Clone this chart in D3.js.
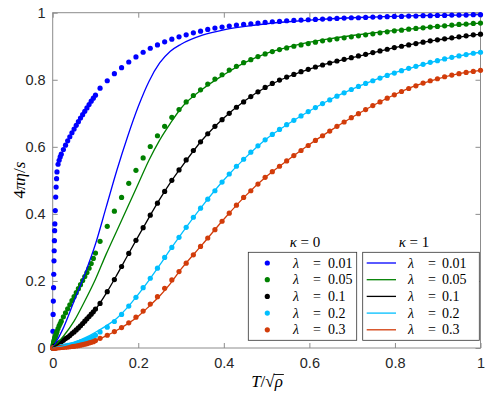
<!DOCTYPE html>
<html>
<head>
<meta charset="utf-8">
<script src="https://cdn.jsdelivr.net/npm/d3@7"></script>
<style>
  body { margin: 0; background: #fff; }
  .tick text { font-family: "Liberation Sans", Arial, sans-serif; font-size: 14.5px; fill: #262626; }
  .math { font-family: "Liberation Serif", "DejaVu Serif", serif; fill: #000; }
</style>
</head>
<body>
<script>
// shared sample points of the kappa = 0 dots (dense near 0, then evenly spaced)
var tDots = [0, 0.0005, 0.001, 0.0015, 0.002, 0.0025, 0.003, 0.0035, 0.004, 0.0045,
  0.005, 0.006, 0.007, 0.008, 0.009, 0.01, 0.0125, 0.015, 0.0175, 0.02,
  0.025, 0.03, 0.035, 0.04, 0.045, 0.05, 0.055, 0.06, 0.065, 0.07,
  0.075, 0.08, 0.085, 0.09, 0.095, 0.1,
  0.1107, 0.1275, 0.1442, 0.161, 0.1778, 0.1946, 0.2114, 0.2281, 0.2449, 0.2617,
  0.2785, 0.2953, 0.312, 0.3288, 0.3456, 0.3624, 0.3792, 0.3959, 0.4127, 0.4295,
  0.4463, 0.4631, 0.4798, 0.4966, 0.5134, 0.5302, 0.5469, 0.5637, 0.5805, 0.5973,
  0.6141, 0.6308, 0.6476, 0.6644, 0.6812, 0.698, 0.7147, 0.7315, 0.7483, 0.7651,
  0.7819, 0.7986, 0.8154, 0.8322, 0.849, 0.8658, 0.8825, 0.8993, 0.9161, 0.9329,
  0.9497, 0.9664, 0.9832, 1];

// kappa = 0 (dots), one array per lambda
var dots001 = [0, 0.05, 0.10, 0.14, 0.18, 0.22, 0.26, 0.29, 0.32, 0.35,
  0.37, 0.41, 0.45, 0.48, 0.505, 0.525, 0.548, 0.56, 0.57, 0.578,
  0.592, 0.605, 0.618, 0.63, 0.642, 0.653, 0.664, 0.675, 0.686, 0.696,
  0.706, 0.716, 0.726, 0.736, 0.745, 0.754,
  0.775, 0.797, 0.818, 0.836, 0.853, 0.868, 0.882, 0.894, 0.904, 0.913,
  0.921, 0.928, 0.934, 0.940, 0.945, 0.950, 0.954, 0.957, 0.960, 0.963,
  0.965, 0.967, 0.969, 0.971, 0.973, 0.974, 0.976, 0.977, 0.978, 0.979,
  0.980, 0.981, 0.982, 0.983, 0.984, 0.985, 0.985, 0.986, 0.987, 0.987,
  0.988, 0.989, 0.989, 0.990, 0.990, 0.991, 0.991, 0.992, 0.992, 0.993,
  0.993, 0.993, 0.994, 0.994];
var dots005 = [0, 0.004, 0.008, 0.011, 0.014, 0.017, 0.02, 0.022, 0.025, 0.027,
  0.03, 0.034, 0.038, 0.042, 0.046, 0.05, 0.058, 0.066, 0.073, 0.08,
  0.093, 0.105, 0.117, 0.129, 0.141, 0.153, 0.165, 0.177, 0.189, 0.201,
  0.213, 0.225, 0.238, 0.252, 0.267, 0.283,
  0.318, 0.363, 0.408, 0.449, 0.491, 0.530, 0.567, 0.601, 0.633, 0.661,
  0.688, 0.711, 0.734, 0.753, 0.770, 0.787, 0.802, 0.815, 0.829, 0.840,
  0.851, 0.860, 0.869, 0.877, 0.884, 0.890, 0.895, 0.900, 0.904, 0.908,
  0.912, 0.916, 0.919, 0.922, 0.925, 0.928, 0.931, 0.934, 0.937, 0.940,
  0.943, 0.946, 0.948, 0.951, 0.953, 0.955, 0.957, 0.959, 0.961, 0.963,
  0.965, 0.966, 0.968, 0.969];
var dots01 = [0, 0.0005, 0.001, 0.0015, 0.002, 0.0025, 0.003, 0.0035, 0.004, 0.0045,
  0.005, 0.006, 0.007, 0.008, 0.009, 0.01, 0.012, 0.014, 0.017, 0.019,
  0.023, 0.028, 0.032, 0.037, 0.043, 0.048, 0.054, 0.060, 0.066, 0.073,
  0.080, 0.087, 0.094, 0.101, 0.108, 0.116,
  0.133, 0.168, 0.204, 0.243, 0.282, 0.321, 0.359, 0.396, 0.432, 0.467,
  0.500, 0.531, 0.561, 0.589, 0.615, 0.639, 0.661, 0.681, 0.700, 0.718,
  0.734, 0.750, 0.764, 0.777, 0.789, 0.799, 0.808, 0.816, 0.824, 0.831,
  0.838, 0.844, 0.850, 0.856, 0.861, 0.866, 0.871, 0.876, 0.881, 0.886,
  0.891, 0.896, 0.900, 0.904, 0.908, 0.912, 0.916, 0.919, 0.922, 0.925,
  0.928, 0.931, 0.934, 0.936];
var dots02 = [0, 0, 0, 0, 0.0005, 0.0005, 0.0005, 0.0005, 0.001, 0.001,
  0.001, 0.001, 0.0012, 0.0014, 0.0016, 0.0018, 0.0023, 0.0028, 0.0034, 0.004,
  0.005, 0.0063, 0.0077, 0.009, 0.0105, 0.012, 0.014, 0.016, 0.018, 0.020,
  0.022, 0.025, 0.028, 0.031, 0.034, 0.038,
  0.048, 0.062, 0.079, 0.100, 0.125, 0.151, 0.180, 0.208, 0.238, 0.270,
  0.300, 0.330, 0.360, 0.390, 0.417, 0.444, 0.469, 0.495, 0.519, 0.542,
  0.563, 0.584, 0.603, 0.621, 0.637, 0.652, 0.666, 0.679, 0.692, 0.705,
  0.717, 0.729, 0.740, 0.751, 0.761, 0.771, 0.780, 0.789, 0.797, 0.805,
  0.813, 0.820, 0.827, 0.834, 0.840, 0.846, 0.852, 0.857, 0.862, 0.867,
  0.871, 0.875, 0.879, 0.882];
var dots03 = [0, 0, 0, 0, 0, 0, 0, 0, 0, 0,
  0.0003, 0.0004, 0.0005, 0.0006, 0.0007, 0.0008, 0.001, 0.0012, 0.0014, 0.0016,
  0.002, 0.0025, 0.003, 0.004, 0.0045, 0.005, 0.006, 0.007, 0.0085, 0.010,
  0.0115, 0.013, 0.015, 0.017, 0.019, 0.022,
  0.029, 0.038, 0.049, 0.061, 0.075, 0.092, 0.110, 0.131, 0.153, 0.178,
  0.203, 0.228, 0.253, 0.278, 0.303, 0.328, 0.353, 0.378, 0.402, 0.426,
  0.449, 0.469, 0.489, 0.509, 0.526, 0.542, 0.558, 0.574, 0.589, 0.604,
  0.619, 0.633, 0.647, 0.661, 0.674, 0.687, 0.699, 0.711, 0.723, 0.734,
  0.745, 0.755, 0.765, 0.774, 0.782, 0.790, 0.797, 0.803, 0.809, 0.814,
  0.818, 0.822, 0.825, 0.828];

// kappa = 1 (solid lines)
var tLine = [0, 0.025, 0.05, 0.075, 0.1, 0.125, 0.15, 0.175, 0.2, 0.225,
  0.25, 0.275, 0.3, 0.35, 0.4, 0.45, 0.5, 0.55, 0.6, 0.65,
  0.7, 0.75, 0.8, 0.85, 0.9, 0.95, 1];
var line001 = [0, 0.06, 0.14, 0.22, 0.31, 0.42, 0.53, 0.63, 0.72, 0.795,
  0.85, 0.885, 0.906, 0.933, 0.949, 0.959, 0.967, 0.973, 0.978, 0.982,
  0.985, 0.987, 0.989, 0.991, 0.992, 0.993, 0.994];
var line005 = [0, 0.035, 0.08, 0.14, 0.205, 0.28, 0.35, 0.42, 0.49, 0.56,
  0.62, 0.67, 0.715, 0.772, 0.815, 0.852, 0.879, 0.897, 0.912, 0.923,
  0.932, 0.940, 0.947, 0.953, 0.959, 0.964, 0.969];
var line01 = [0, 0.022, 0.047, 0.079, 0.115, 0.163, 0.218, 0.276, 0.333, 0.389,
  0.443, 0.493, 0.538, 0.621, 0.686, 0.738, 0.779, 0.809, 0.832, 0.851,
  0.866, 0.881, 0.896, 0.908, 0.919, 0.927, 0.936];
var line02 = [0, 0.006, 0.016, 0.030, 0.047, 0.066, 0.089, 0.121, 0.160, 0.202,
  0.247, 0.294, 0.339, 0.424, 0.501, 0.567, 0.624, 0.668, 0.707, 0.742,
  0.772, 0.798, 0.821, 0.840, 0.857, 0.871, 0.882];
var line03 = [0, 0.002, 0.006, 0.012, 0.022, 0.036, 0.053, 0.072, 0.095, 0.124,
  0.155, 0.192, 0.235, 0.309, 0.384, 0.453, 0.512, 0.561, 0.607, 0.649,
  0.688, 0.724, 0.756, 0.783, 0.803, 0.818, 0.828];

var lambdas = ["0.01", "0.05", "0.1", "0.2", "0.3"];
var colors = ["#0000ff", "#008000", "#000000", "#00bfff", "#d23c0a"];
var dotSeries = [dots001, dots005, dots01, dots02, dots03];
var lineSeries = [line001, line005, line01, line02, line03];
var xTicks = [0, 0.2, 0.4, 0.6, 0.8, 1];
var xTickLabels = ["0", "0.2", "0.4", "0.6", "0.8", "1"];
var yTicks = [0, 0.2, 0.4, 0.6, 0.8, 1];
var yTickLabels = ["0", "0.2", "0.4", "0.6", "0.8", "1"];

(function(){
var w = 495, h = 397;
var plotL = 52.7, plotR = 480.5, plotT = 12.7, plotB = 348;
var axisGray = "#8c8c8c";

var svg = d3.select("body").append("svg")
    .attr("width", w)
    .attr("height", h);

var x = d3.scaleLinear().domain([0, 1]).range([plotL, plotR]);
var y = d3.scaleLinear().domain([0, 1]).range([plotB, plotT]);

// axes (ticks point inwards, MATLAB style)
function styleAxis(g) {
    g.select(".domain").remove();
    g.selectAll(".tick line").attr("stroke", axisGray);
}
svg.append("g")
    .attr("transform", "translate(0," + plotB + ")")
    .call(d3.axisBottom(x).tickValues(xTicks)
        .tickFormat(function(d, i){ return xTickLabels[i]; })
        .tickSizeInner(-5).tickSizeOuter(0).tickPadding(10))
    .call(styleAxis);
svg.append("g")
    .attr("transform", "translate(" + plotL + ",0)")
    .call(d3.axisLeft(y).tickValues(yTicks)
        .tickFormat(function(d, i){ return yTickLabels[i]; })
        .tickSizeInner(-5).tickSizeOuter(0).tickPadding(7))
    .call(styleAxis);
svg.append("g")
    .attr("transform", "translate(0," + plotT + ")")
    .call(d3.axisTop(x).tickValues(xTicks).tickFormat("").tickSizeInner(-5).tickSizeOuter(0))
    .call(styleAxis);
svg.append("g")
    .attr("transform", "translate(" + plotR + ",0)")
    .call(d3.axisRight(y).tickValues(yTicks).tickFormat("").tickSizeInner(-5).tickSizeOuter(0))
    .call(styleAxis);

svg.append("rect")
    .attr("x", plotL).attr("y", plotT)
    .attr("width", plotR - plotL).attr("height", plotB - plotT)
    .attr("fill", "none")
    .attr("stroke", axisGray)
    .attr("stroke-width", 1);

// kappa = 0 dots
dotSeries.forEach(function(vals, k){
    svg.append("g").selectAll("circle")
        .data(vals)
        .enter()
        .append("circle")
        .attr("cx", function(d, i){ return x(tDots[i]); })
        .attr("cy", function(d){ return y(d); })
        .attr("r", 2.6)
        .attr("fill", colors[k]);
});

// kappa = 1 lines
var line = d3.line()
    .x(function(d, i){ return x(tLine[i]); })
    .y(function(d){ return y(d); })
    .curve(d3.curveMonotoneX);
lineSeries.forEach(function(vals, k){
    svg.append("path")
        .datum(vals)
        .attr("d", line)
        .attr("fill", "none")
        .attr("stroke", colors[k])
        .attr("stroke-width", 1.3);
});

// axis labels
var xl = svg.append("text")
    .attr("class", "math")
    .attr("x", 267).attr("y", 387)
    .attr("text-anchor", "middle")
    .style("font-size", "17px");
xl.append("tspan").style("font-style", "italic").text("T");
xl.append("tspan").text("/\u221A");
xl.append("tspan").style("font-style", "italic").text("\u03C1");
var rho = xl.node().getExtentOfChar(3);
svg.append("line")
    .attr("x1", rho.x - 1).attr("x2", rho.x + rho.width + 1)
    .attr("y1", 374.5).attr("y2", 374.5)
    .attr("stroke", "#000").attr("stroke-width", 0.9);

var yl = svg.append("text")
    .attr("class", "math")
    .attr("transform", "translate(25,180) rotate(-90)")
    .attr("text-anchor", "middle")
    .style("font-size", "17px");
yl.append("tspan").text("4");
yl.append("tspan").style("font-style", "italic").text("\u03C0\u03B7");
yl.append("tspan").text("/");
yl.append("tspan").style("font-style", "italic").text("s");

// legends
var legends = [
    {title: "0", x0: 248.3, x1: 356.7, lam: 293, eq: 313, num: 328, kind: "dot", tx: 305},
    {title: "1", x0: 362.7, x1: 479.3, lam: 408, eq: 428, num: 442, kind: "line", tx: 414}
];
legends.forEach(function(L){
    var g = svg.append("g");
    g.append("rect")
        .attr("x", L.x0).attr("y", 252.3)
        .attr("width", L.x1 - L.x0).attr("height", 88)
        .attr("fill", "#fff")
        .attr("stroke", "#333")
        .attr("stroke-width", 0.8);
    var t = g.append("text")
        .attr("class", "math")
        .attr("x", L.tx).attr("y", 247)
        .attr("text-anchor", "middle")
        .style("font-size", "15px");
    t.append("tspan").style("font-style", "italic").text("\u03BA");
    t.append("tspan").text(" = " + L.title);

    var rows = g.selectAll(".row")
        .data(lambdas)
        .enter()
        .append("g")
        .attr("class", "row")
        .attr("transform", function(d, i){ return "translate(0," + (263 + i * 16.7) + ")"; });
    if (L.kind === "dot") {
        rows.append("circle")
            .attr("cx", 267.3).attr("cy", 0).attr("r", 2.6)
            .attr("fill", function(d, i){ return colors[i]; });
    } else {
        rows.append("line")
            .attr("x1", 366.7).attr("x2", 396)
            .attr("y1", 0).attr("y2", 0)
            .attr("stroke", function(d, i){ return colors[i]; })
            .attr("stroke-width", 1.3);
    }
    rows.append("text")
        .attr("class", "math")
        .attr("x", L.lam).attr("y", 4.5)
        .style("font-size", "14px")
        .style("font-style", "italic")
        .text("\u03BB");
    rows.append("text")
        .attr("class", "math")
        .attr("x", L.eq).attr("y", 4.5)
        .style("font-size", "14px")
        .text("=");
    rows.append("text")
        .attr("class", "math")
        .attr("x", L.num).attr("y", 4.5)
        .style("font-size", "14px")
        .text(function(d){ return d; });
});
})();
</script>
</body>
</html>
